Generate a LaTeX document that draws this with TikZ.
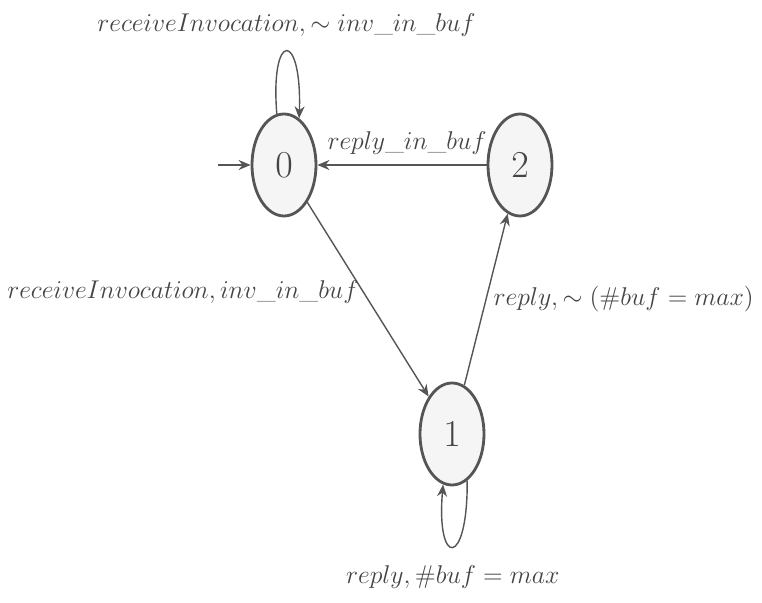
\documentclass[tikz,border=0pt]{standalone}
\usepackage{fix-cm}
\usetikzlibrary{shapes.geometric,arrows.meta}
\definecolor{edgegray}{HTML}{555555}
\definecolor{statefill}{HTML}{F5F5F5}
\definecolor{textgray}{HTML}{444444}
\begin{document}
\begin{tikzpicture}[x=0.5pt,y=-0.5pt,
  state/.style={ellipse,draw=edgegray,fill=statefill,line width=1.4pt,
    minimum width=32pt,minimum height=51pt,inner sep=0pt,text=textgray,
    font=\fontsize{19}{22}\selectfont},
  trans/.style={draw=edgegray,line width=0.7pt,-{Stealth[length=6pt,width=5pt]}},
  lbl/.style={text=textgray,font=\fontsize{12.85}{15}\selectfont,inner sep=2pt}]
  \useasboundingbox (0,0) rectangle (762,603);
  % states
  \node[state] (s0) at (284,165) {$0$};
  \node[state] (s2) at (520,165) {$2$};
  \node[state] (s1) at (452,434) {$1$};
  \coordinate (init) at (218,165);
  % transitions
  \draw[trans] (init) -- (s0);
  \draw[trans] (s2) -- node[lbl,above=3pt,pos=0.47] {$reply\_in\_buf$} (s0);
  \draw[trans] (s0) -- node[lbl,anchor=east,pos=0.46] {$receiveInvocation, inv\_in\_buf$} (s1);
  \draw[trans] (s1) -- node[lbl,anchor=west,pos=0.5,xshift=1.5pt] {$reply, \sim(\#buf = max)$} (s2);
  \draw[trans] (s0.98) .. controls (270,30) and (302,30) .. node[lbl,pos=0.5,above=5pt] {$receiveInvocation, \sim inv\_in\_buf$} (s0.72);
  \draw[trans] (s1.-72) .. controls (468,568) and (436,568) .. node[lbl,pos=0.5,below=7pt] {$reply, \#buf = max$} (s1.-100);
\end{tikzpicture}
\end{document}
